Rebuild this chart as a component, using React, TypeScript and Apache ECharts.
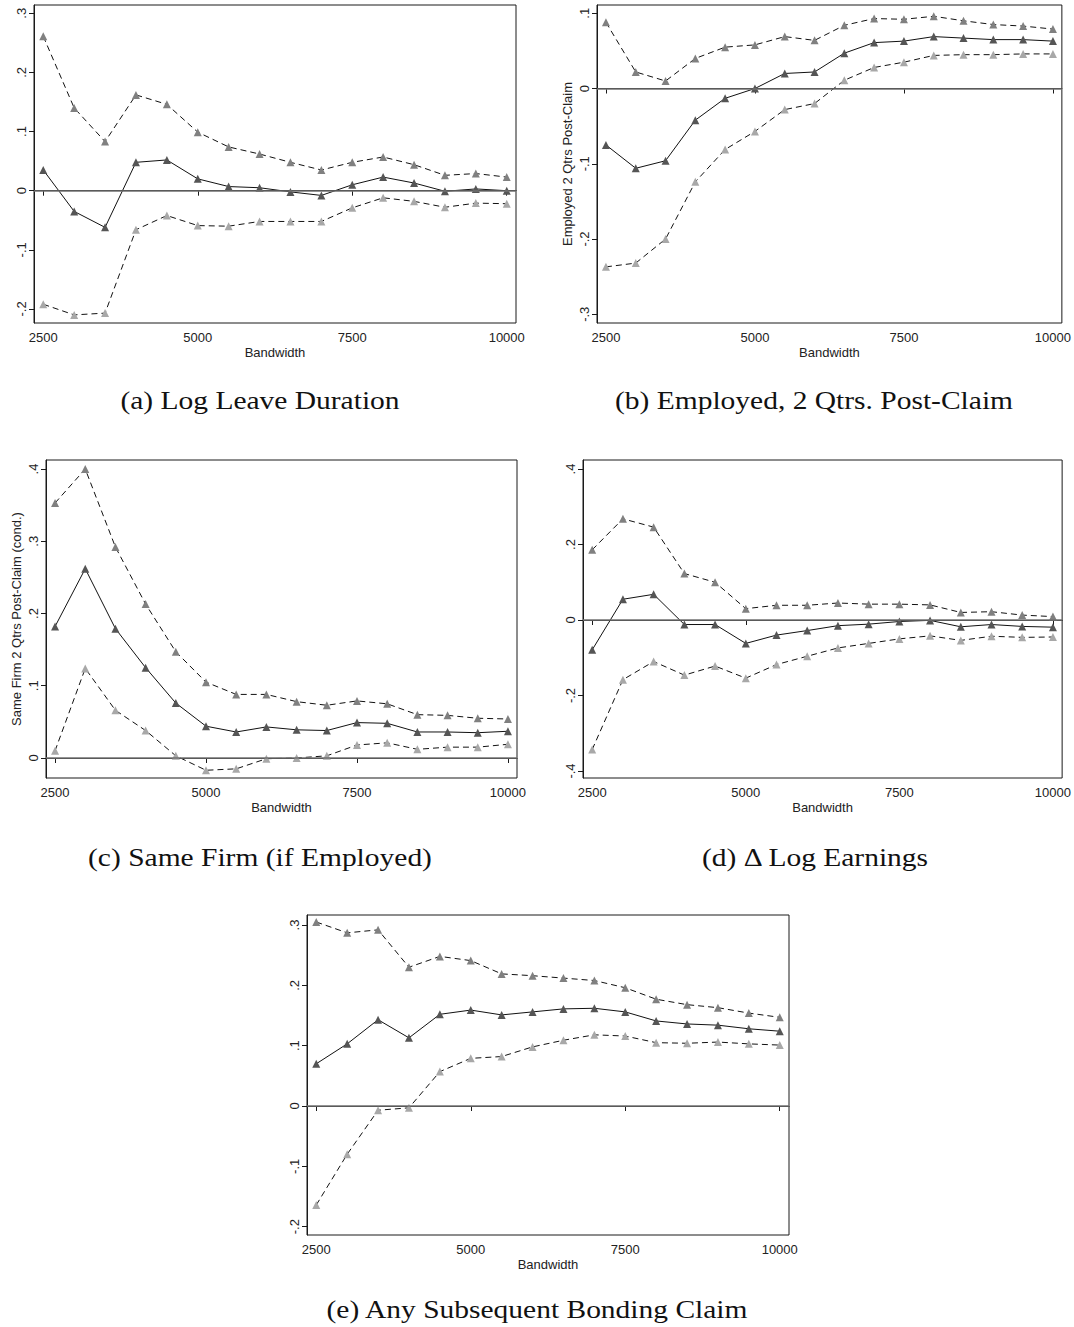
import React, { useEffect, useRef } from "react";
import * as echarts from "echarts";

const bandwidths = [2500, 3000, 3500, 4000, 4500, 5000, 5500, 6000, 6500, 7000, 7500, 8000, 8500, 9000, 9500, 10000];
const xTicks = [2500, 5000, 7500, 10000];

// (a) Log Leave Duration
const aUpper = [0.261, 0.14, 0.083, 0.162, 0.146, 0.099, 0.074, 0.062, 0.048, 0.035, 0.048, 0.057, 0.044, 0.026, 0.029, 0.023];
const aEst = [0.035, -0.035, -0.062, 0.048, 0.052, 0.02, 0.007, 0.005, -0.002, -0.008, 0.01, 0.023, 0.013, -0.001, 0.003, 0.0];
const aLower = [-0.192, -0.21, -0.207, -0.066, -0.042, -0.059, -0.06, -0.052, -0.052, -0.052, -0.029, -0.012, -0.018, -0.028, -0.021, -0.022];
const aTicks = [-0.2, -0.1, 0, 0.1, 0.2, 0.3];

// (b) Employed, 2 Qtrs. Post-Claim
const bUpper = [0.088, 0.022, 0.01, 0.04, 0.055, 0.058, 0.069, 0.064, 0.084, 0.093, 0.092, 0.096, 0.09, 0.085, 0.083, 0.079];
const bEst = [-0.075, -0.106, -0.096, -0.042, -0.013, 0.0, 0.02, 0.022, 0.047, 0.061, 0.063, 0.069, 0.067, 0.065, 0.065, 0.063];
const bLower = [-0.237, -0.232, -0.2, -0.124, -0.081, -0.057, -0.028, -0.02, 0.011, 0.028, 0.035, 0.044, 0.045, 0.045, 0.046, 0.046];
const bTicks = [-0.3, -0.2, -0.1, 0, 0.1];

// (c) Same Firm (if Employed)
const cUpper = [0.353, 0.4, 0.292, 0.213, 0.147, 0.105, 0.088, 0.088, 0.078, 0.073, 0.079, 0.075, 0.06, 0.059, 0.055, 0.054];
const cEst = [0.182, 0.262, 0.179, 0.125, 0.076, 0.044, 0.036, 0.043, 0.039, 0.038, 0.049, 0.048, 0.036, 0.036, 0.035, 0.037];
const cLower = [0.01, 0.124, 0.066, 0.038, 0.003, -0.017, -0.015, -0.001, 0.0, 0.003, 0.018, 0.021, 0.012, 0.015, 0.015, 0.019];
const cTicks = [0, 0.1, 0.2, 0.3, 0.4];

// (d) Δ Log Earnings
const dUpper = [0.186, 0.268, 0.246, 0.123, 0.1, 0.03, 0.039, 0.039, 0.045, 0.042, 0.042, 0.04, 0.02, 0.022, 0.013, 0.009];
const dEst = [-0.079, 0.055, 0.068, -0.012, -0.012, -0.062, -0.04, -0.028, -0.015, -0.011, -0.004, -0.001, -0.018, -0.012, -0.017, -0.019];
const dLower = [-0.343, -0.158, -0.11, -0.146, -0.122, -0.154, -0.118, -0.096, -0.074, -0.062, -0.05, -0.042, -0.054, -0.043, -0.046, -0.045];
const dTicks = [-0.4, -0.2, 0, 0.2, 0.4];

// (e) Any Subsequent Bonding Claim
const eUpper = [0.305, 0.287, 0.292, 0.23, 0.248, 0.241, 0.219, 0.216, 0.212, 0.208, 0.196, 0.177, 0.168, 0.163, 0.154, 0.147];
const eEst = [0.07, 0.103, 0.143, 0.113, 0.152, 0.159, 0.151, 0.156, 0.161, 0.162, 0.156, 0.141, 0.136, 0.134, 0.128, 0.124];
const eLower = [-0.164, -0.08, -0.007, -0.003, 0.057, 0.079, 0.082, 0.098, 0.109, 0.118, 0.116, 0.105, 0.104, 0.106, 0.103, 0.101];
const eTicks = [-0.2, -0.1, 0, 0.1, 0.2, 0.3];

const captions = [
  "(a) Log Leave Duration",
  "(b) Employed, 2 Qtrs. Post-Claim",
  "(c) Same Firm (if Employed)",
  "(d) \u0394 Log Earnings",
  "(e) Any Subsequent Bonding Claim",
];
const yTitles = ["", "Employed 2 Qtrs Post-Claim", "Same Firm 2 Qtrs Post-Claim (cond.)", "", ""];
const xTitle = "Bandwidth";

const SANS = "Liberation Sans, Arial, sans-serif";
const SERIF = "Liberation Serif, DejaVu Serif, serif";

function fmt(v: number): string {
  const r = Math.round(v * 10) / 10;
  if (r === 0) return "0";
  const s = String(r);
  return s.replace("0.", ".");
}

export default function App() {
  const ref = useRef<HTMLDivElement>(null);
  useEffect(() => {
    if (!ref.current) return;
    const chart = echarts.init(ref.current, null, { renderer: "svg" });

    const panels = [
      { up: aUpper, est: aEst, lo: aLower, ticks: aTicks, ymin: -0.2237, ymax: 0.314, grid: { left: 34, top: 5, width: 482, height: 318 }, cap: [260, 401] },
      { up: bUpper, est: bEst, lo: bLower, ticks: bTicks, ymin: -0.3116, ymax: 0.111, grid: { left: 597, top: 5, width: 469, height: 318 }, cap: [814, 401] },
      { up: cUpper, est: cEst, lo: cLower, ticks: cTicks, ymin: -0.0277, ymax: 0.4125, grid: { left: 46, top: 460, width: 471, height: 318 }, cap: [260, 858] },
      { up: dUpper, est: dEst, lo: dLower, ticks: dTicks, ymin: -0.4185, ymax: 0.4238, grid: { left: 583, top: 460, width: 483, height: 318 }, cap: [815, 858] },
      { up: eUpper, est: eEst, lo: eLower, ticks: eTicks, ymin: -0.2138, ymax: 0.3166, grid: { left: 307, top: 915, width: 482, height: 320 }, cap: [537, 1310] },
    ];

    const grids: any[] = [];
    const xAxes: any[] = [];
    const yAxes: any[] = [];
    const series: any[] = [];
    const graphics: any[] = [];

    panels.forEach((p, i) => {
      grids.push({ ...p.grid, show: true, borderColor: "#1a1a1a", borderWidth: 1, backgroundColor: "#fff", containLabel: false });
      xAxes.push({
        type: "value",
        gridIndex: i,
        min: 2350,
        max: 10150,
        name: xTitle,
        nameLocation: "middle",
        nameGap: 23,
        nameTextStyle: { fontFamily: SANS, fontSize: 13, color: "#222" },
        axisLine: { show: true, lineStyle: { color: "#1a1a1a", width: 1 } },
        axisTick: { show: true, length: 5, customValues: xTicks, lineStyle: { color: "#1a1a1a" } },
        axisLabel: { customValues: xTicks, margin: 8, fontFamily: SANS, fontSize: 13, color: "#222", formatter: (v: number) => String(v) },
        splitLine: { show: false },
      });
      yAxes.push({
        type: "value",
        gridIndex: i,
        min: p.ymin,
        max: p.ymax,
        name: yTitles[i],
        nameLocation: "middle",
        nameRotate: 90,
        nameGap: 23,
        nameTextStyle: { fontFamily: SANS, fontSize: 13, color: "#222" },
        axisLine: { show: true, lineStyle: { color: "#1a1a1a", width: 1 } },
        axisTick: { show: true, length: 5, customValues: p.ticks, lineStyle: { color: "#1a1a1a" } },
        axisLabel: { customValues: p.ticks, rotate: 90, margin: 6, fontFamily: SANS, fontSize: 13, color: "#222", formatter: (v: number) => fmt(v) },
        splitLine: { show: false },
      });
      const mk = (arr: number[]) => bandwidths.map((x, k) => [x, arr[k]]);
      series.push({
        type: "line",
        xAxisIndex: i,
        yAxisIndex: i,
        data: mk(p.est),
        symbol: "triangle",
        symbolSize: 8,
        itemStyle: { color: "#555555" },
        lineStyle: { color: "#111", width: 1, type: "solid" },
        markLine: {
          silent: true,
          symbol: "none",
          label: { show: false },
          lineStyle: { color: "#707070", width: 1.5, type: "solid" },
          data: [{ yAxis: 0 }],
        },
        z: 3,
      });
      series.push({
        type: "line",
        xAxisIndex: i,
        yAxisIndex: i,
        data: mk(p.up),
        symbol: "triangle",
        symbolSize: 8,
        itemStyle: { color: "#808080" },
        lineStyle: { color: "#111", width: 1, type: [6, 4] },
        z: 3,
      });
      series.push({
        type: "line",
        xAxisIndex: i,
        yAxisIndex: i,
        data: mk(p.lo),
        symbol: "triangle",
        symbolSize: 8,
        itemStyle: { color: "#a8a8a8" },
        lineStyle: { color: "#111", width: 1, type: [6, 4] },
        z: 3,
      });
      graphics.push({
        type: "text",
        x: p.cap[0],
        y: p.cap[1],
        scaleX: 1.18,
        style: {
          text: captions[i],
          fontFamily: SERIF,
          fontSize: 25,
          fill: "#111",
          textAlign: "center",
          textVerticalAlign: "middle",
        },
      });
    });

    chart.setOption({
      animation: false,
      backgroundColor: "#fff",
      grid: grids,
      xAxis: xAxes,
      yAxis: yAxes,
      series,
      graphic: graphics,
    });
    return () => chart.dispose();
  }, []);

  return (
    <div
      ref={ref}
      style={{ position: "absolute", left: 0, top: 0, width: 1074, height: 1327, background: "#fff" }}
    />
  );
}
